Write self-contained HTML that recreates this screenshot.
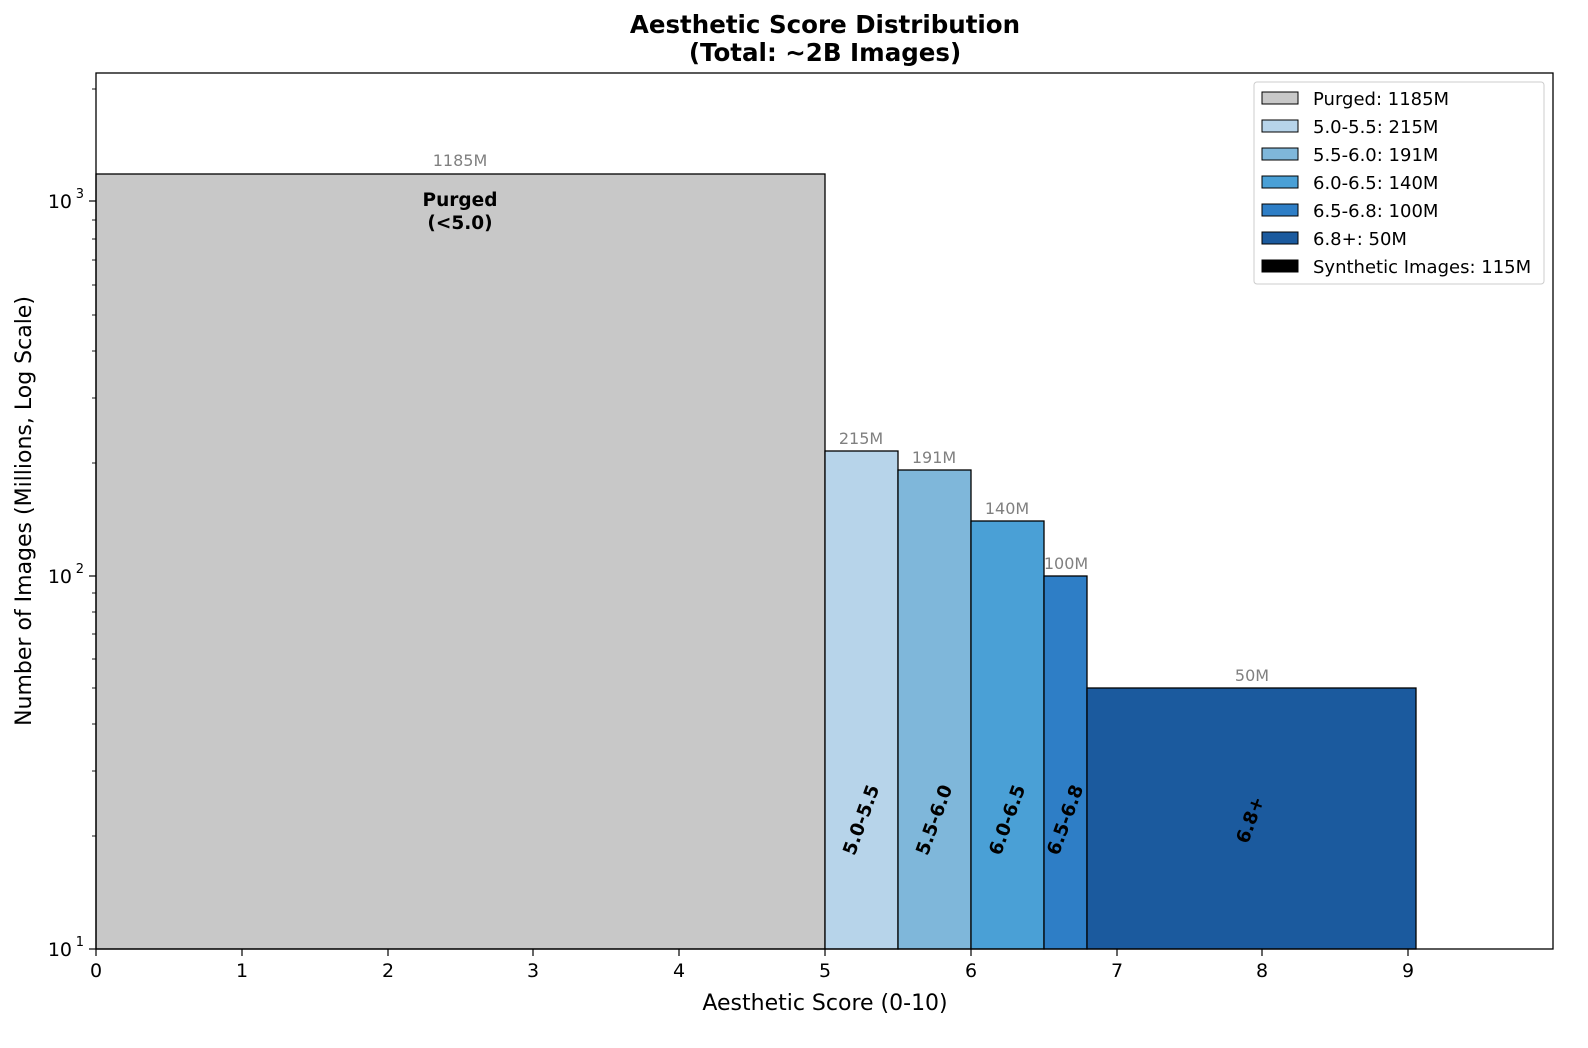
<!DOCTYPE html>
<html><head><meta charset="utf-8"><style>body{margin:0;background:#fff;overflow:hidden}</style></head><body>
<svg width="1588" height="1043" xmlns="http://www.w3.org/2000/svg" font-family="'DejaVu Sans', 'Liberation Sans', sans-serif">
<rect width="1588" height="1043" fill="#fff"/>
<text x="825" y="33" text-anchor="middle" font-size="24.5" font-weight="bold">Aesthetic Score Distribution</text>
<text x="825" y="61" text-anchor="middle" font-size="24.5" font-weight="bold">(Total: ~2B Images)</text>
<g stroke="#000" stroke-width="1.3">
<rect x="96" y="174" width="729" height="775" fill="#c8c8c8"/>
<rect x="825" y="451" width="73" height="498" fill="#b7d4ea"/>
<rect x="898" y="470" width="73" height="479" fill="#7fb7da"/>
<rect x="971" y="521" width="73" height="428" fill="#4aa0d6"/>
<rect x="1044" y="576" width="43" height="373" fill="#2e7ec6"/>
<rect x="1087" y="688" width="329" height="261" fill="#1b5a9e"/>
</g>
<g font-size="16" fill="#808080" text-anchor="middle">
<text x="460" y="166">1185M</text>
<text x="861" y="444">215M</text>
<text x="934" y="463">191M</text>
<text x="1007" y="514">140M</text>
<text x="1066" y="569">100M</text>
<text x="1252" y="681">50M</text>
</g>
<g font-size="18.5" font-weight="bold" text-anchor="middle">
<text x="460" y="206">Purged</text>
<text x="460" y="229">(&lt;5.0)</text>
<text transform="translate(867,822) rotate(-70)">5.0-5.5</text>
<text transform="translate(940,822) rotate(-70)">5.5-6.0</text>
<text transform="translate(1013,822) rotate(-70)">6.0-6.5</text>
<text transform="translate(1071,822) rotate(-70)">6.5-6.8</text>
<text transform="translate(1256,822) rotate(-70)">6.8+</text>
</g>
<rect x="96" y="73" width="1457" height="876" fill="none" stroke="#000" stroke-width="1.3"/>
<g stroke="#000" stroke-width="1.2">
<line x1="96" y1="949" x2="96" y2="956"/><line x1="242" y1="949" x2="242" y2="956"/><line x1="388" y1="949" x2="388" y2="956"/><line x1="533" y1="949" x2="533" y2="956"/><line x1="679" y1="949" x2="679" y2="956"/><line x1="825" y1="949" x2="825" y2="956"/><line x1="971" y1="949" x2="971" y2="956"/><line x1="1117" y1="949" x2="1117" y2="956"/><line x1="1262" y1="949" x2="1262" y2="956"/><line x1="1408" y1="949" x2="1408" y2="956"/>
<line x1="89" y1="949" x2="96" y2="949"/><line x1="89" y1="576" x2="96" y2="576"/><line x1="89" y1="201" x2="96" y2="201"/>
</g>
<g stroke="#000" stroke-width="0.9">
<line x1="92" y1="836" x2="96" y2="836"/><line x1="92" y1="771" x2="96" y2="771"/><line x1="92" y1="724" x2="96" y2="724"/><line x1="92" y1="688" x2="96" y2="688"/><line x1="92" y1="659" x2="96" y2="659"/><line x1="92" y1="634" x2="96" y2="634"/><line x1="92" y1="612" x2="96" y2="612"/><line x1="92" y1="593" x2="96" y2="593"/>
<line x1="92" y1="463" x2="96" y2="463"/><line x1="92" y1="398" x2="96" y2="398"/><line x1="92" y1="351" x2="96" y2="351"/><line x1="92" y1="315" x2="96" y2="315"/><line x1="92" y1="285" x2="96" y2="285"/><line x1="92" y1="260" x2="96" y2="260"/><line x1="92" y1="239" x2="96" y2="239"/><line x1="92" y1="220" x2="96" y2="220"/>
<line x1="92" y1="89" x2="96" y2="89"/>
</g>
<g font-size="19" text-anchor="middle">
<text x="96" y="977">0</text><text x="242" y="977">1</text><text x="388" y="977">2</text><text x="533" y="977">3</text><text x="679" y="977">4</text><text x="825" y="977">5</text><text x="971" y="977">6</text><text x="1117" y="977">7</text><text x="1262" y="977">8</text><text x="1408" y="977">9</text>
</g>
<g font-size="19" text-anchor="end">
<text x="72" y="956">10</text><text x="84" y="946" font-size="13">1</text>
<text x="72" y="583">10</text><text x="84" y="573" font-size="13">2</text>
<text x="72" y="208">10</text><text x="84" y="198" font-size="13">3</text>
</g>
<text x="825" y="1010" text-anchor="middle" font-size="22">Aesthetic Score (0-10)</text>
<text transform="translate(31,511) rotate(-90)" text-anchor="middle" font-size="22">Number of Images (Millions, Log Scale)</text>
<rect x="1254" y="82" width="290" height="202" rx="3" fill="#fff" stroke="#ccc"/>
<g stroke="#000" stroke-width="1">
<rect x="1262" y="92" width="36" height="12" fill="#c8c8c8"/>
<rect x="1262" y="120" width="36" height="12" fill="#b7d4ea"/>
<rect x="1262" y="148" width="36" height="12" fill="#7fb7da"/>
<rect x="1262" y="176" width="36" height="12" fill="#4aa0d6"/>
<rect x="1262" y="204" width="36" height="12" fill="#2e7ec6"/>
<rect x="1262" y="232" width="36" height="12" fill="#1b5a9e"/>
<rect x="1262" y="260" width="36" height="12" fill="#000"/>
</g>
<g font-size="18">
<text x="1313" y="105">Purged: 1185M</text>
<text x="1313" y="133">5.0-5.5: 215M</text>
<text x="1313" y="161">5.5-6.0: 191M</text>
<text x="1313" y="189">6.0-6.5: 140M</text>
<text x="1313" y="217">6.5-6.8: 100M</text>
<text x="1313" y="245">6.8+: 50M</text>
<text x="1313" y="273">Synthetic Images: 115M</text>
</g>
</svg>
</body></html>
